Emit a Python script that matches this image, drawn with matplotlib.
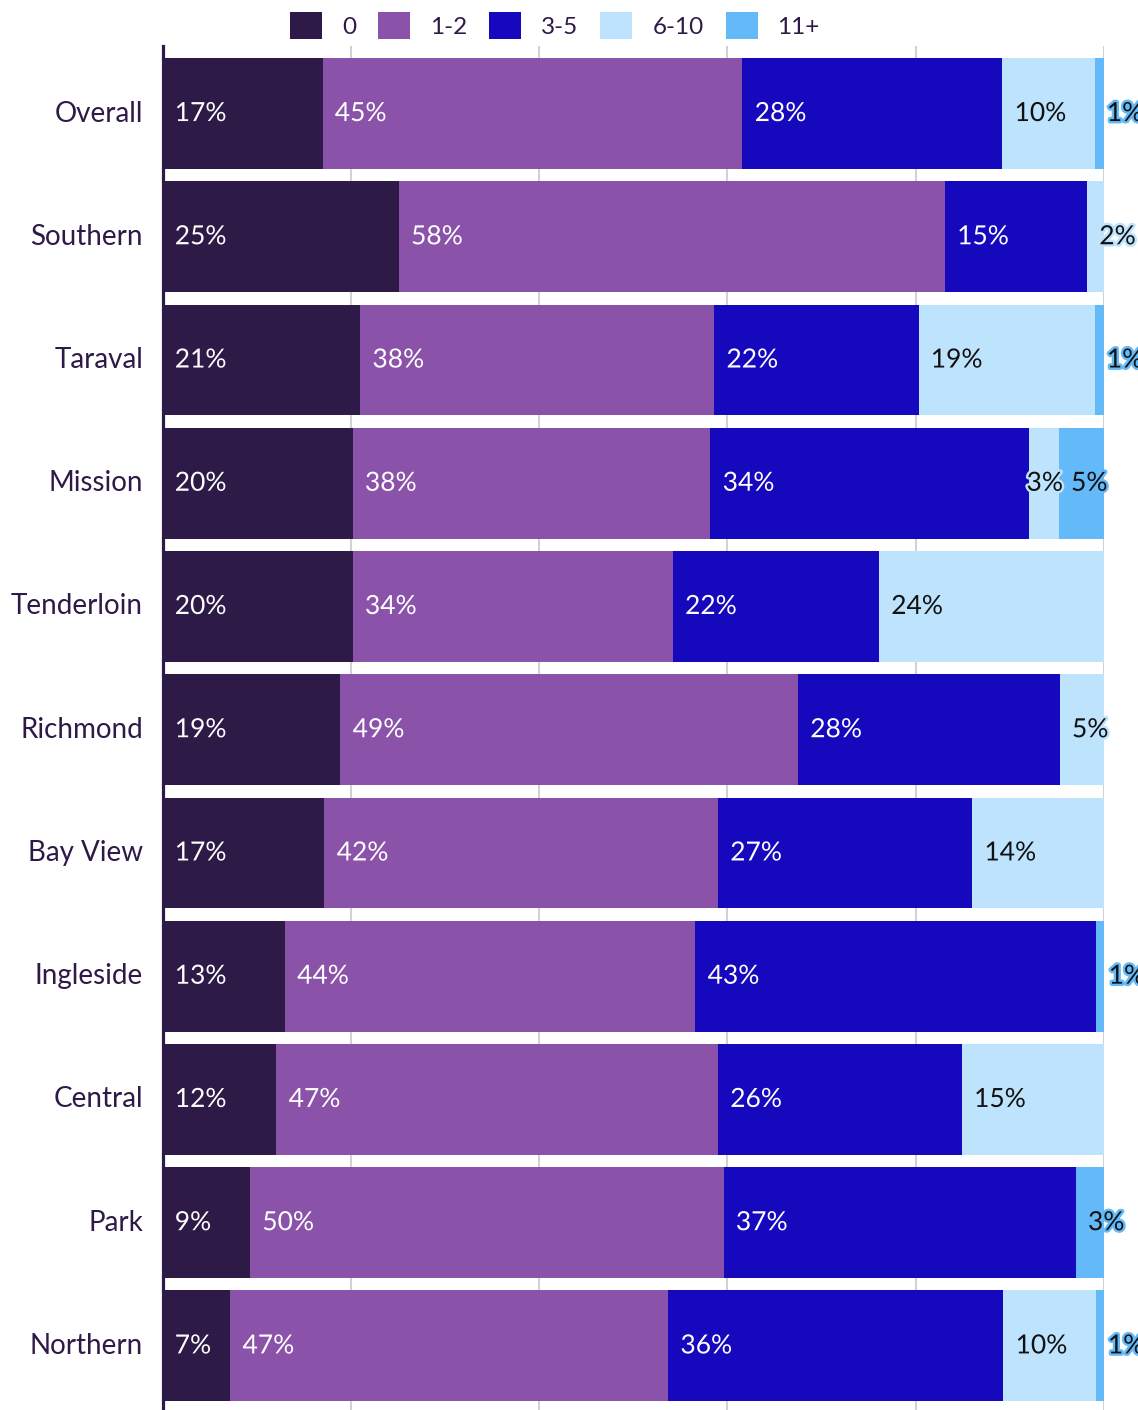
import matplotlib
matplotlib.use("Agg")
import matplotlib.pyplot as plt
import matplotlib.patheffects as pe
from matplotlib.patches import Patch

categories = ["Overall", "Southern", "Taraval", "Mission", "Tenderloin", "Richmond",
              "Bay View", "Ingleside", "Central", "Park", "Northern"]
series_names = ["0", "1-2", "3-5", "6-10", "11+"]
s0 = [17.0, 25.1, 21.0, 20.2, 20.2, 18.9, 17.2, 13.0, 12.1, 9.3, 7.2]
s12 = [44.6, 58.0, 37.6, 38.0, 34.0, 48.6, 41.8, 43.6, 46.9, 50.3, 46.51]
s35 = [27.6, 15.1, 21.7, 33.8, 21.9, 27.8, 27.0, 42.6, 25.9, 37.4, 35.6]
s610 = [9.8, 1.9, 18.7, 3.2, 24.0, 4.9, 14.0, 0.0, 15.1, 0.0, 9.8]
s11 = [1.0, 0.0, 1.0, 4.9, 0.0, 0.0, 0.0, 0.9, 0.0, 3.0, 1.0]
series = [s0, s12, s35, s610, s11]

colors = ["#2e1a47", "#8a53a9", "#1608bd", "#bee4fd", "#64b9f8"]
text_colors = ["white", "white", "white", "#111111", "#111111"]
dark = "#2e1a47"

plt.rcParams['font.family'] = ['Lato', 'DejaVu Sans']

W, H = 1138, 1410
fig = plt.figure(figsize=(W / 100, H / 100), dpi=100)
ax_left = 162.5 / W
ax_right = 1104 / W
ax_top = 1 - 46 / H
ax = fig.add_axes([ax_left, 0, ax_right - ax_left, ax_top])

n = len(categories)
ypos = list(range(n))
lefts = [0.0] * n
label_items = []
for si, vals in enumerate(series):
    ax.barh(ypos, vals, left=lefts, height=0.9, color=colors[si], zorder=2,
            label=series_names[si])
    for i, v in enumerate(vals):
        if v > 0:
            label_items.append((i, si, lefts[i], v))
    lefts = [l + v for l, v in zip(lefts, vals)]

ax.set_xlim(0, 100)
ax.set_ylim(10.52, -0.548)
ax.set_xticks([0, 20, 40, 60, 80, 100])
ax.tick_params(axis='x', length=0, labelbottom=False)
ax.xaxis.grid(True, color="#d2d2d4", linewidth=1.5, zorder=0)
ax.set_axisbelow(True)
ax.set_yticks(ypos)
ax.set_yticklabels(categories, fontsize=20, color=dark, va="center")
ax.tick_params(axis='y', length=0, pad=14)
for s in ["top", "right", "bottom"]:
    ax.spines[s].set_visible(False)
ax.spines["left"].set_color(dark)
ax.spines["left"].set_linewidth(2.3)
ax.spines["left"].set_zorder(5)

# value labels
offset = 1.3
texts = {}
for (i, si, left, v) in label_items:
    t = ax.text(left + offset, i, f"{v:.0f}%", ha="left", va="center",
                fontsize=19, color=text_colors[si], zorder=4, clip_on=False,
                path_effects=[pe.withStroke(linewidth=3.5, foreground=colors[si])])
    texts[(i, si)] = (t, left)

# simple collision avoidance: shift a label left if it runs into the next one
fig.canvas.draw()
renderer = fig.canvas.get_renderer()
inv = ax.transData.inverted()
for i in range(n):
    keys = sorted([k for k in texts if k[0] == i], key=lambda k: k[1])
    for a, b in zip(keys, keys[1:]):
        ta, _ = texts[a]
        tb, _ = texts[b]
        ea = ta.get_window_extent(renderer)
        eb = tb.get_window_extent(renderer)
        gap = 8
        if ea.x1 + gap > eb.x0:
            shift_px = ea.x1 + gap - eb.x0
            x0d = inv.transform((ea.x0 - shift_px, 0))[0]
            ta.set_x(x0d)

handles = [Patch(facecolor=c, edgecolor="none") for c in colors]
fig.legend(handles, series_names, loc="center", bbox_to_anchor=(555 / W, 1 - 25.5 / H),
           ncol=5, frameon=False, handlelength=1.32, handleheight=1.32,
           handletextpad=0.82, columnspacing=0.9, labelcolor=dark, borderpad=0,
           prop={"size": 17.5})

fig.savefig("out.png", dpi=100)
